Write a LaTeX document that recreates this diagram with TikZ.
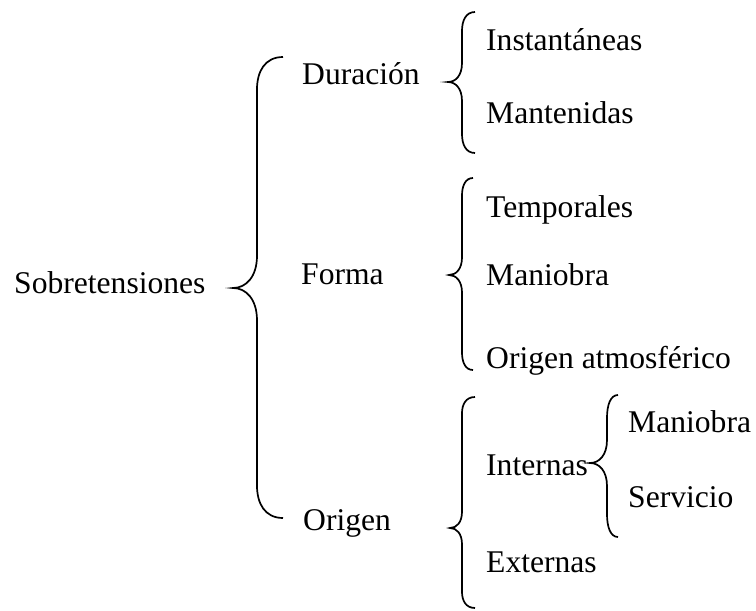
\documentclass[tikz,border=0pt]{standalone}
\usepackage{fontspec}
\setmainfont{Liberation Serif}
\usepackage{tikz}

\tikzset{
  texto/.style={inner sep=0pt, anchor=base west, font=\fontsize{31.6}{38}\selectfont},
  llavelinea/.style={line width=1.7pt}
}

% llave: x of the line, top, tip, bottom, end width, tip depth
\newcommand{\llave}[6]{
  \pgfmathsetmacro{\hh}{1.35*#6}
  \draw [llavelinea] (#1+#5,#2) .. controls (#1+0.3*#5,#2) and (#1,#2+0.45*\hh) .. (#1,#2+\hh)
    -- (#1,#3-\hh) .. controls (#1,#3-0.35*\hh) and (#1-0.45*#6,#3) .. (#1-#6,#3)
    .. controls (#1-0.45*#6,#3) and (#1,#3+0.35*\hh) .. (#1,#3+\hh)
    -- (#1,#4-\hh) .. controls (#1,#4-0.45*\hh) and (#1+0.3*#5,#4) .. (#1+#5,#4);
}

\begin{document}
\begin{tikzpicture}[x=1pt, y=-1pt]
\useasboundingbox (0,0) rectangle (756,611);

\node (sobre) [texto] at (14,293) {Sobretensiones};

\node (duracion) [texto] at (302,84) {Duración};
\node (forma) [texto] at (301,284) {Forma};
\node (origen) [texto] at (303,530) {Origen};

\node (instant) [texto] at (486,50) {Instantáneas};
\node (mantenidas) [texto] at (486,123) {Mantenidas};

\node (temporales) [texto] at (486,217) {Temporales};
\node (maniobra) [texto] at (486,285) {Maniobra};
\node (atmos) [texto] at (486,368) {Origen atmosférico};

\node (internas) [texto] at (486,475) {Internas};
\node (externas) [texto] at (486,572) {Externas};

\node (intmaniobra) [texto] at (628,432) {Maniobra};
\node (servicio) [texto] at (628,507) {Servicio};

% braces
\llave{257}{57}{288}{518}{26}{24}
\llave{462}{12}{82}{153}{13}{14}
\llave{462}{178}{275}{370}{11}{13}
\llave{462}{397}{528}{608}{13}{12}
\llave{607}{395}{463}{537}{11}{17}
\end{tikzpicture}
\end{document}
